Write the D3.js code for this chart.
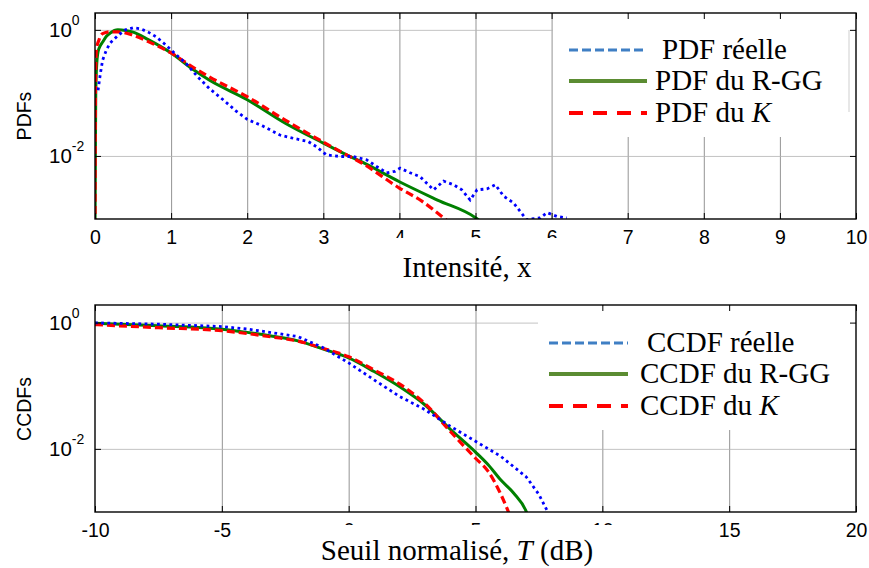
<!DOCTYPE html>
<html>
<head>
<meta charset="utf-8">
<script src="https://d3js.org/d3.v7.min.js"></script>
<style>
  body { margin: 0; background: #fff; }
  svg { display: block; }
</style>
</head>
<body>
<svg id="chart" width="869" height="568"></svg>
<script>

// --- PDF panel data (intensity x, pdf value) ---
const pdfReelleX = [0.04, 0.07, 0.1, 0.15, 0.2, 0.3, 0.4, 0.5, 0.6, 0.7, 0.8, 0.9, 1.0, 1.1, 1.2, 1.35, 1.5, 1.7, 1.85, 2.0, 2.2, 2.43, 2.61, 2.8, 2.91, 3.04, 3.22, 3.39, 3.57, 3.7, 3.83, 3.94, 4.01, 4.14, 4.27, 4.45, 4.58, 4.71, 4.82, 4.93, 5.02, 5.15, 5.26, 5.37, 5.5, 5.67, 5.85, 5.94, 6.07, 6.2];
const pdfReelleY = [0.11, 0.2, 0.33, 0.48, 0.62, 0.81, 1.0, 1.08, 1.04, 0.92, 0.78, 0.62, 0.48, 0.37, 0.29, 0.18, 0.118, 0.075, 0.052, 0.038, 0.03, 0.0215, 0.019, 0.017, 0.014, 0.0104, 0.0098, 0.0098, 0.0087, 0.0068, 0.0054, 0.0057, 0.0064, 0.0054, 0.0047, 0.0029, 0.004, 0.0035, 0.0029, 0.002, 0.0029, 0.003, 0.0035, 0.0023, 0.0018, 0.00098, 0.00104, 0.00126, 0.0011, 0.00104];

const pdfRggX = [0, 0.005, 0.01, 0.02, 0.04, 0.07, 0.1, 0.15, 0.2, 0.3, 0.4, 0.5, 0.7, 1.0, 1.3, 1.5, 2.0, 2.5, 3.0, 3.3, 3.5, 4.0, 4.5, 5.0, 5.1];
const pdfRggY = [0.0005, 0.01, 0.1, 0.25, 0.45, 0.56, 0.64, 0.79, 0.89, 1.0, 0.98, 0.92, 0.7, 0.43, 0.23, 0.16, 0.078, 0.033, 0.016, 0.0105, 0.0081, 0.0039, 0.002, 0.00105, 0.00085];

const pdfKX = [0, 0.003, 0.008, 0.02, 0.05, 0.1, 0.2, 0.3, 0.5, 0.7, 1.0, 1.3, 1.5, 2.0, 2.5, 3.0, 3.3, 3.5, 4.0, 4.3, 4.6, 4.7];
const pdfKY = [0.0005, 0.02, 0.2, 0.5, 0.68, 0.87, 0.93, 0.93, 0.82, 0.65, 0.43, 0.25, 0.18, 0.087, 0.037, 0.0166, 0.0105, 0.0078, 0.0031, 0.0019, 0.001, 0.0008];

// --- CCDF panel data (threshold T in dB, ccdf value) ---
const ccdfReelleX = [-10, -7.5, -5, -4, -3, -2, -1, 0, 1, 2, 3, 4, 5, 6, 7, 7.5, 7.8, 7.9];
const ccdfReelleY = [0.99, 0.945, 0.865, 0.79, 0.69, 0.6, 0.4, 0.23, 0.124, 0.068, 0.042, 0.0229, 0.0132, 0.0076, 0.0036, 0.0019, 0.0011, 0.0009];

const ccdfRggX = [-10, -7.5, -5, -4, -3, -2, -1, 0, 1, 2, 3, 4, 5, 5.5, 6, 6.5, 7, 7.1];
const ccdfRggY = [0.977, 0.89, 0.785, 0.7, 0.61, 0.513, 0.38, 0.275, 0.168, 0.097, 0.05, 0.0206, 0.0089, 0.0056, 0.0032, 0.002, 0.00102, 0.0008];

const ccdfKX = [-10, -7.5, -5, -4, -3, -2, -1, 0, 1, 2, 3, 4, 5, 5.5, 6, 6.3, 6.4];
const ccdfKY = [0.93, 0.83, 0.745, 0.67, 0.59, 0.51, 0.39, 0.288, 0.178, 0.107, 0.0525, 0.019, 0.0071, 0.0044, 0.0019, 0.001, 0.0008];

// ticks and labels
const pdfXTicks = [0, 1, 2, 3, 4, 5, 6, 7, 8, 9, 10];
const ccdfXTicks = [-10, -5, 0, 5, 10, 15, 20];
const yTickVals = [1, 0.01];
const yTickExp = ["0", "-2"];
const pdfLegend = ["PDF réelle", "PDF du R-GG", "PDF du "];
const ccdfLegend = ["CCDF réelle", "CCDF du R-GG", "CCDF du "];

const serif = "'Liberation Serif', 'Times New Roman', serif";
const sans = "'Liberation Sans', Arial, sans-serif";

const svg = d3.select("#chart");

function zip(xs, ys){ return xs.map((x, i) => [x, ys[i]]); }

function drawPanel(cfg){
  const x = d3.scaleLinear().domain(cfg.xDomain).range([95, 856]);
  const y = d3.scaleLog().domain([1e-3, cfg.yTop]).range([cfg.bottom, cfg.top]);
  const g = svg.append("g");
  const h = cfg.bottom - cfg.top;

  // grid
  g.append("g").attr("transform", "translate(0," + cfg.bottom + ")")
    .call(d3.axisBottom(x).tickValues(cfg.xTicks.slice(1, -1)).tickSize(-h).tickFormat(""))
    .call(a => a.select(".domain").remove())
    .call(a => a.selectAll("line").attr("stroke", "#888").attr("stroke-width", 0.9));
  g.append("g").attr("transform", "translate(95,0)")
    .call(d3.axisLeft(y).tickValues(yTickVals).tickSize(-761).tickFormat(""))
    .call(a => a.select(".domain").remove())
    .call(a => a.selectAll("line").attr("stroke", "#b4b4b4").attr("stroke-width", 0.8));

  // legend background hides the grid behind it
  g.append("rect").attr("x", cfg.leg.x0).attr("y", cfg.top + 1)
    .attr("width", 855 - cfg.leg.x0).attr("height", cfg.leg.y1 - cfg.top - 1)
    .attr("fill", "#fff");

  // curves
  const clipId = "clip" + cfg.top;
  svg.append("clipPath").attr("id", clipId).append("rect")
    .attr("x", 95).attr("y", cfg.top).attr("width", 761).attr("height", h);
  const curves = g.append("g").attr("clip-path", "url(#" + clipId + ")");
  const smooth = d3.line().x(d => x(d[0])).y(d => y(d[1])).curve(d3.curveMonotoneX);
  const rough = d3.line().x(d => x(d[0])).y(d => y(d[1]));

  curves.append("path").datum(cfg.green).attr("d", smooth)
    .attr("fill", "none").attr("stroke", "#008000").attr("stroke-width", 3);
  curves.append("path").datum(cfg.red).attr("d", smooth)
    .attr("fill", "none").attr("stroke", "#ff0000").attr("stroke-width", 3.2)
    .attr("stroke-dasharray", "8,4");
  curves.append("path").datum(cfg.blue).attr("d", rough)
    .attr("fill", "none").attr("stroke", "#0000ff").attr("stroke-width", 2.8)
    .attr("stroke-dasharray", "2.8,3.4");

  // frame and inward ticks
  g.append("rect").attr("x", 95).attr("y", cfg.top).attr("width", 761).attr("height", h)
    .attr("fill", "none").attr("stroke", "#000").attr("stroke-width", 1.4);
  const bx = g.append("g").attr("transform", "translate(0," + cfg.bottom + ")")
    .call(d3.axisBottom(x).tickValues(cfg.xTicks).tickSize(-6).tickPadding(11.5).tickFormat(d => String(d)));
  bx.select(".domain").remove();
  bx.selectAll("text").attr("font-family", sans).attr("font-size", 19.5).attr("fill", "#000");
  g.append("g").attr("transform", "translate(0," + cfg.top + ")")
    .call(d3.axisTop(x).tickValues(cfg.xTicks).tickSize(-6).tickFormat(""))
    .select(".domain").remove();
  g.append("g").attr("transform", "translate(95,0)")
    .call(d3.axisLeft(y).tickValues(yTickVals).tickSize(-6).tickFormat(""))
    .select(".domain").remove();
  g.append("g").attr("transform", "translate(856,0)")
    .call(d3.axisRight(y).tickValues(yTickVals).tickSize(-6).tickFormat(""))
    .select(".domain").remove();

  // y tick labels 10^n
  yTickVals.forEach((v, i) => {
    const t = g.append("text").attr("x", 49).attr("y", y(v) + 7.5)
      .attr("font-family", sans).attr("font-size", 20.5);
    t.append("tspan").text("10");
    t.append("tspan").attr("font-size", 14).attr("dy", -12).text(yTickExp[i]);
  });

  // y label
  g.append("text").attr("transform", "translate(31," + cfg.yLabelY + ") rotate(-90)")
    .attr("text-anchor", "middle").attr("font-family", sans).attr("font-size", 19.5)
    .text(cfg.yLabel);

  // x label with its white box over the tick labels
  g.append("rect").attr("x", cfg.xBox[0]).attr("y", cfg.xBox[1])
    .attr("width", cfg.xBox[2]).attr("height", cfg.xBox[3]).attr("fill", "#fff");
  const xl = g.append("text").attr("x", cfg.xLabelX).attr("y", cfg.xLabelY)
    .attr("text-anchor", "middle").attr("font-family", serif).attr("font-size", 29);
  cfg.xLabel(xl);

  // legend
  const L = cfg.leg;
  if (L.edge) {
    g.append("line").attr("x1", 849).attr("x2", 849).attr("y1", 30).attr("y2", 112)
      .attr("stroke", "#cfcfcf").attr("stroke-width", 1);
  }
  const styles = [
    {c: "#3f7fc4", w: 3, dash: "9,4"},
    {c: "#5b8c32", w: 4, dash: null},
    {c: "#ff0000", w: 4, dash: "14,10"}
  ];
  L.labels.forEach((lab, i) => {
    const ly = L.rows[i];
    g.append("line").attr("x1", L.lx[0]).attr("x2", L.lx[1]).attr("y1", ly).attr("y2", ly)
      .attr("stroke", styles[i].c).attr("stroke-width", styles[i].w)
      .attr("stroke-dasharray", styles[i].dash);
    const t = g.append("text").attr("x", i === 0 ? L.tx0 : L.tx).attr("y", ly + 8.5)
      .attr("font-family", serif).attr("font-size", 29).text(lab);
    if (i === 2) t.append("tspan").attr("font-style", "italic").text("K");
  });
}

drawPanel({
  xDomain: [0, 10], xTicks: pdfXTicks, yTop: 1.85, top: 13, bottom: 219,
  green: zip(pdfRggX, pdfRggY), red: zip(pdfKX, pdfKY), blue: zip(pdfReelleX, pdfReelleY),
  yLabel: "PDFs", yLabelY: 116,
  xBox: [380, 238, 190, 50], xLabelX: 467, xLabelY: 277,
  xLabel: t => t.text("Intensité, x"),
  leg: {x0: 553, y1: 137, lx: [569, 647], rows: [50, 81, 113], tx0: 662, tx: 655, labels: pdfLegend, edge: true}
});

drawPanel({
  xDomain: [-10, 20], xTicks: ccdfXTicks, yTop: 1.9, top: 305, bottom: 512,
  green: zip(ccdfRggX, ccdfRggY), red: zip(ccdfKX, ccdfKY), blue: zip(ccdfReelleX, ccdfReelleY),
  yLabel: "CCDFs", yLabelY: 409,
  xBox: [315, 525, 300, 43], xLabelX: 457, xLabelY: 560,
  xLabel: t => {
    t.append("tspan").text("Seuil normalisé, ");
    t.append("tspan").attr("font-style", "italic").text("T");
    t.append("tspan").text(" (dB)");
  },
  leg: {x0: 538, y1: 430, lx: [549, 628], rows: [343, 374, 406], tx0: 647, tx: 640, labels: ccdfLegend, edge: false}
});

</script>
</body>
</html>
